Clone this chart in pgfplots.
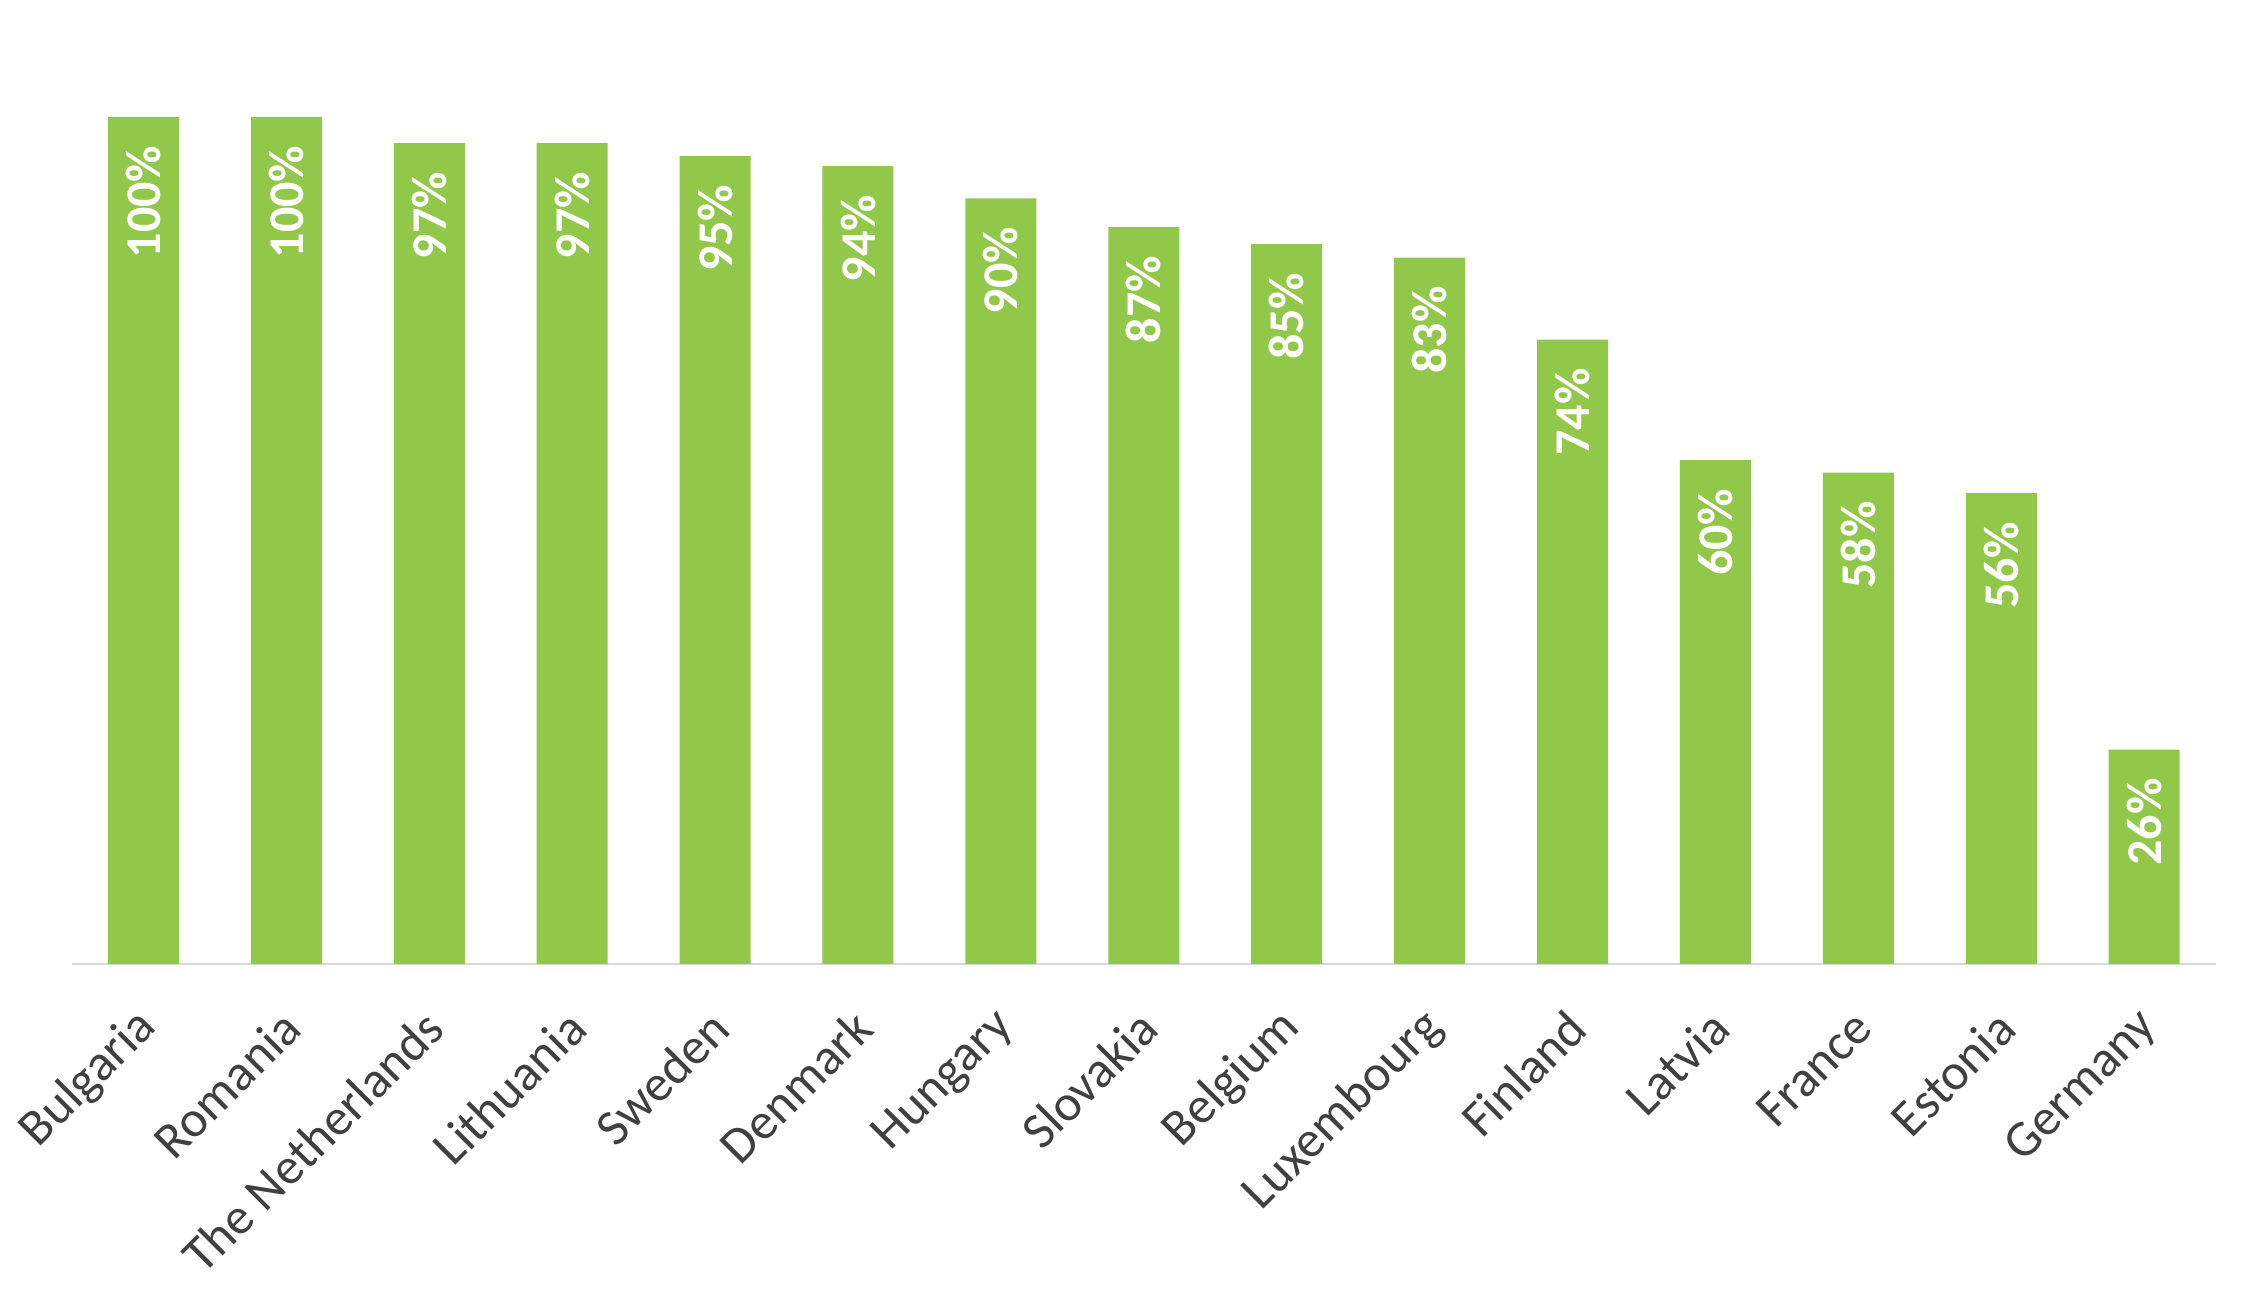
\documentclass[border=0pt]{standalone}
\usepackage{pgfplots}
\pgfplotsset{compat=1.18}
\usepackage{fontspec}
\setmainfont{Carlito}
\definecolor{bargreen}{RGB}{146,200,74}
\definecolor{axisgray}{RGB}{217,217,217}
\definecolor{labelgray}{RGB}{64,64,64}
\begin{document}
\begin{tikzpicture}
\useasboundingbox (0,0) rectangle (564.25pt,328pt);
\begin{axis}[
  at={(18pt,87pt)}, anchor=south west,
  scale only axis, width=535.9pt, height=211.75pt,
  xmin=-0.5, xmax=14.5, ymin=0, ymax=100,
  clip=false,
  axis x line*=bottom, axis y line=none,
  x axis line style={draw=axisgray, line width=0.7pt},
  xtick={0,...,14},
  xticklabels={Bulgaria,Romania,The Netherlands,Lithuania,Sweden,Denmark,Hungary,Slovakia,Belgium,Luxembourg,Finland,Latvia,France,Estonia,Germany},
  major tick length=0pt,
  xticklabel style={font=\fontsize{12.8}{15}\selectfont, text=labelgray, xshift=1.4pt, rotate=45, anchor=east, inner sep=0pt},
  xticklabel shift=13.8pt,
  ybar, bar width=17.75pt,
  point meta=explicit symbolic,
  nodes near coords,
  nodes near coords style={yshift=-7pt, rotate=90, anchor=east, inner sep=0pt, font=\bfseries\fontsize{12.5}{14}\selectfont, text=white},
]
\addplot[fill=bargreen, draw=none] coordinates {
(0,100) [100\%]
(1,100) [100\%]
(2,96.9) [97\%]
(3,96.9) [97\%]
(4,95.4) [95\%]
(5,94.2) [94\%]
(6,90.4) [90\%]
(7,87.0) [87\%]
(8,85.0) [85\%]
(9,83.4) [83\%]
(10,73.7) [74\%]
(11,59.5) [60\%]
(12,58.0) [58\%]
(13,55.6) [56\%]
(14,25.3) [26\%]
};
\end{axis}
\end{tikzpicture}
\end{document}
